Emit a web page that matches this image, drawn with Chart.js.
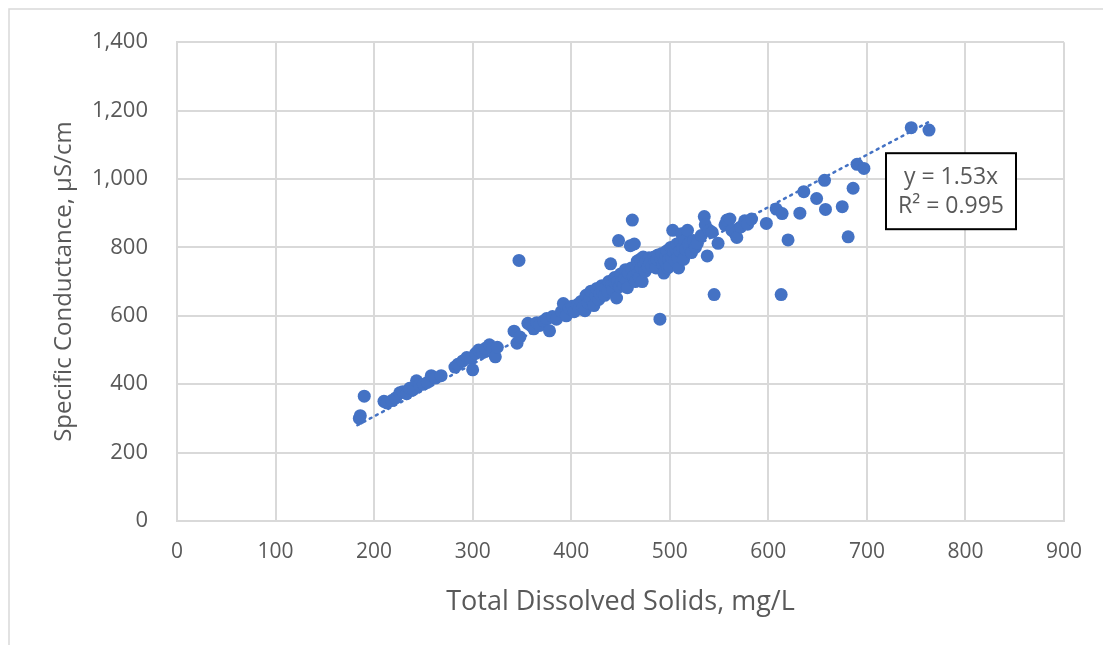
<!DOCTYPE html>
<html>
<head>
<meta charset="utf-8">
<script src="https://cdn.jsdelivr.net/npm/chart.js@4/dist/chart.umd.min.js"></script>
<style>
  body { margin: 0; background: #fff; }
  #wrap { width: 1103px; height: 645px; }
</style>
</head>
<body>
<div id="wrap"><canvas id="scChart" width="1103" height="645"></canvas></div>
<script>
// Total dissolved solids (mg/L) vs specific conductance (uS/cm)
const tds = [
  185, 186, 190,
  210, 213, 218, 222, 226, 229, 233, 236, 240, 243, 246, 250, 254, 258, 262, 268,
  282, 285, 290, 294, 298, 300, 303, 306, 310, 313, 317, 320, 323, 325,
  342, 345, 347, 348,
  356, 359, 362, 365, 368, 372, 375, 378, 381, 385, 390, 392, 395, 398,
  401, 403, 406, 408, 410, 412, 414, 415, 417, 419, 420, 422, 423, 425, 426, 428, 429, 431, 432, 434, 435, 437, 438, 440, 441, 442,
  444, 445, 446, 447, 448, 449, 450, 451, 453, 454, 455, 456, 457, 458, 460, 461, 462, 463, 464, 465, 466, 467, 468, 469, 470, 471, 472, 473, 474, 475, 476, 478, 479, 480,
  482, 484, 485, 486, 487, 488, 490, 491, 492, 493, 494, 495, 496, 497, 498, 499, 500, 501, 502, 503, 504, 505, 506, 507, 508, 509, 510, 511, 512, 513, 514, 515, 516, 518, 519, 520, 522, 524, 526, 528,
  532, 535, 536, 538, 540, 543, 545, 549, 556, 558, 561, 563, 566, 568, 572, 576, 579, 583, 598,
  608, 613, 614, 620, 632, 636, 649, 657, 658, 675, 681, 686, 690, 697, 745, 763
];
const cond = [
  300, 308, 365,
  350, 345, 352, 360, 375, 378, 372, 388, 385, 410, 398, 400, 405, 425, 418, 425,
  450, 458, 468, 478, 475, 442, 490, 500, 492, 505, 515, 502, 480, 508,
  555, 520, 762, 538,
  578, 572, 562, 580, 572, 585, 592, 556, 598, 590, 612, 636, 600, 622,
  628, 612, 632, 620, 642, 625, 615, 660, 638, 650, 672, 642, 630, 658, 680, 648, 665, 688, 670, 660, 682, 672, 700, 752, 690, 675,
  712, 695, 652, 700, 820, 685, 722, 700, 690, 710, 735, 700, 682, 725, 805, 740, 880, 715, 810, 700, 745, 760, 725, 712, 765, 740, 700, 772, 750, 730, 760, 742, 770, 755,
  745, 772, 760, 740, 765, 778, 590, 768, 782, 750, 725, 760, 775, 790, 740, 765, 745, 800, 770, 850, 785, 760, 795, 810, 770, 740, 790, 815, 840, 800, 765, 820, 795, 850, 810, 800, 785, 820, 800, 812,
  835, 890, 866, 775, 850, 844, 662, 812, 866, 880, 883, 850, 842, 829, 860, 878, 868, 883, 870,
  912, 662, 899, 822, 900, 963, 943, 996, 911, 919, 831, 973, 1043, 1031, 1150, 1143
];

// linear fit through origin, drawn as a dotted trendline
const trendX = [183, 765];
const trendY = [280, 1170];
const fitLines = ["y = 1.53x", "R\u00b2 = 0.995"];

const xTicks = [0, 100, 200, 300, 400, 500, 600, 700, 800, 900];
const yTicks = [0, 200, 400, 600, 800, 1000, 1200, 1400];

const blue = "#4472c4";
const grey = "#595959";
const gridGrey = "#d9d9d9";

const points = tds.map((x, i) => ({ x: x, y: cond[i] }));
const trend = trendX.map((x, i) => ({ x: x, y: trendY[i] }));

// light frame on the left and top, like the copied chart object
const framePlugin = {
  id: "frame",
  beforeDraw(chart) {
    const c = chart.ctx;
    c.save();
    c.fillStyle = "#fff";
    c.fillRect(0, 0, chart.width, chart.height);
    c.strokeStyle = gridGrey;
    c.lineWidth = 1.5;
    c.beginPath();
    c.moveTo(9, chart.height);
    c.lineTo(9, 9);
    c.lineTo(chart.width, 9);
    c.stroke();
    c.restore();
  }
};

// trendline label box
const fitLabel = {
  id: "fitLabel",
  afterDraw(chart) {
    const c = chart.ctx;
    const a = chart.chartArea;
    const left = a.left + 709, top = a.top + 111, w = 130, h = 76;
    c.save();
    c.fillStyle = "#fff";
    c.fillRect(left, top, w, h);
    c.strokeStyle = "#000";
    c.lineWidth = 2;
    c.strokeRect(left, top, w, h);
    c.fillStyle = grey;
    c.font = "23px 'Open Sans'";
    c.textAlign = "center";
    c.textBaseline = "middle";
    c.fillText(fitLines[0], left + w / 2, top + 24);
    c.fillText(fitLines[1], left + w / 2, top + 53);
    c.restore();
  }
};

const ctx = document.getElementById("scChart").getContext("2d");
new Chart(ctx, {
  type: "scatter",
  data: {
    datasets: [
      {
        label: "Samples",
        data: points,
        backgroundColor: blue,
        borderColor: blue,
        pointRadius: 6.5,
        pointHoverRadius: 6.5,
        borderWidth: 0,
        order: 1
      },
      {
        type: "line",
        label: "Linear fit",
        data: trend,
        borderColor: blue,
        borderWidth: 2.5,
        borderDash: [2, 5],
        borderCapStyle: "round",
        pointRadius: 0,
        fill: false,
        order: 2
      }
    ]
  },
  options: {
    responsive: false,
    animation: false,
    layout: { padding: { left: 0, top: 41, right: 39, bottom: 0 } },
    plugins: {
      legend: { display: false },
      tooltip: { enabled: false }
    },
    scales: {
      x: {
        type: "linear",
        min: 0,
        max: 900,
        afterBuildTicks: (s) => { s.ticks = xTicks.map(v => ({ value: v })); },
        afterFit: (s) => { s.height = 124; },
        grid: { color: gridGrey, lineWidth: 2, drawTicks: false },
        border: { color: gridGrey, width: 2 },
        ticks: { color: grey, padding: 18, font: { family: "'Open Sans'", size: 21 } },
        title: {
          display: true,
          text: "Total Dissolved Solids, mg/L",
          color: grey,
          font: { family: "'Open Sans'", size: 27 },
          padding: { top: 0, bottom: 26 }
        }
      },
      y: {
        type: "linear",
        min: 0,
        max: 1400,
        afterBuildTicks: (s) => { s.ticks = yTicks.map(v => ({ value: v })); },
        afterFit: (s) => { s.width = 177; },
        grid: { color: gridGrey, lineWidth: 2, drawTicks: false },
        border: { color: gridGrey, width: 2 },
        ticks: {
          color: grey,
          padding: 29,
          font: { family: "'Open Sans'", size: 22 },
          callback: (v) => v.toLocaleString("en-US")
        },
        title: {
          display: true,
          text: "Specific Conductance, \u00b5S/cm",
          color: grey,
          font: { family: "'Open Sans'", size: 24 },
          padding: { top: 50, bottom: 0 }
        }
      }
    }
  },
  plugins: [framePlugin, fitLabel]
});
</script>
</body>
</html>
